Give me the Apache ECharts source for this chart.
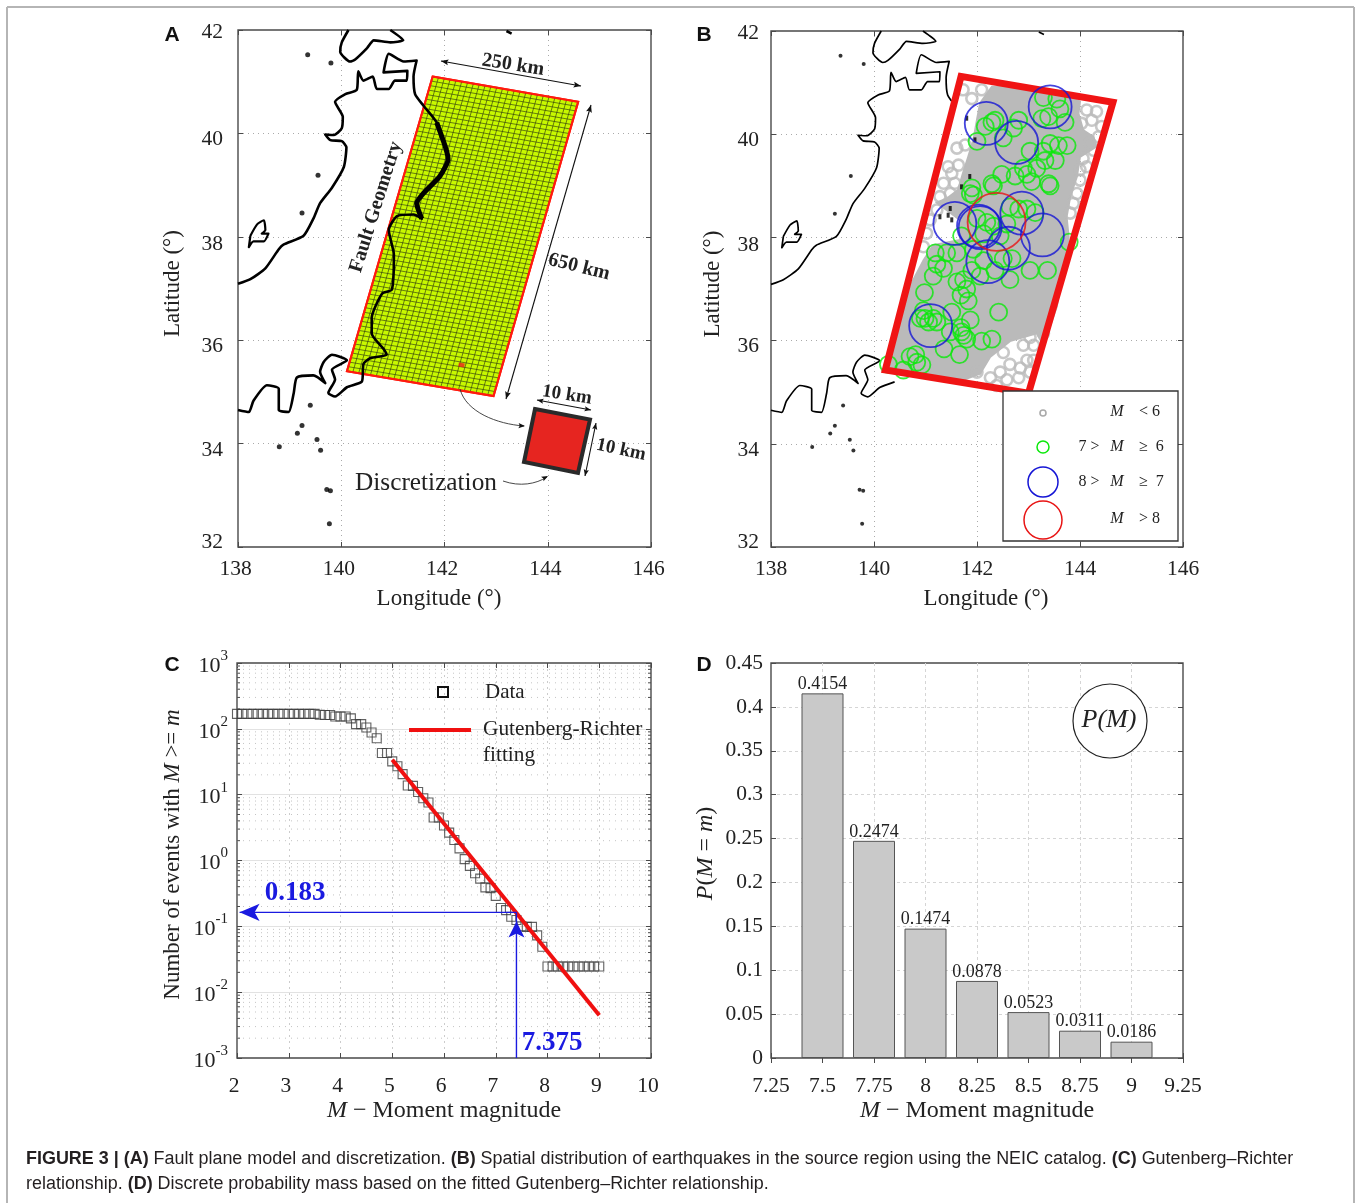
<!DOCTYPE html>
<html><head><meta charset="utf-8">
<style>html,body{margin:0;padding:0;background:#fff}#c{width:1355px;height:1203px}</style>
<script src="https://cdn.jsdelivr.net/npm/echarts@6/dist/echarts.min.js"></script>
</head><body><div id="c"></div>
<script>
// ---------- map data (lon, lat) ----------
const honshuCoast=[[138,37.09],[138.24,37.18],[138.53,37.39],[138.79,37.76],[138.88,37.85],[139.27,38.02],[139.46,38.35],[139.59,38.65],[139.82,38.95],[140.05,39.35],[140.10,39.73],[140.01,39.85],[139.79,39.87],[139.69,39.98],[139.86,39.97],[140.01,40.10],[140.03,40.32],[139.88,40.61],[140.08,40.76],[140.30,40.84],[140.33,41.2],[140.43,41.02],[140.61,41.10],[140.69,40.86],[140.92,40.86],[141.04,41.02],[141.27,41.02],[141.28,41.21],[140.82,41.18],[140.92,41.54],[141.21,41.39],[141.46,41.41],[141.40,41.10],[141.43,40.76],[141.59,40.54],[141.85,40.21],[142.01,39.76],[142.07,39.5],[141.91,39.17],[141.59,38.84],[141.46,38.65],[141.56,38.35],[141.40,38.43],[141.08,38.40],[140.92,38.13],[141.02,37.65],[140.98,36.98],[140.79,36.90],[140.59,36.43],[140.59,36.13],[140.82,35.83],[140.88,35.72],[140.56,35.65],[140.43,35.54],[140.40,35.20],[140.11,35.09],[139.88,34.91],[139.75,34.98],[139.88,35.24],[139.82,35.43],[140.11,35.61],[139.82,35.72],[139.66,35.58],[139.59,35.39],[139.69,35.17],[139.46,35.32],[139.14,35.28],[139.08,34.98],[138.98,34.61],[138.79,34.65],[138.79,35.06],[138.56,35.13],[138.30,34.83],[138.21,34.61],[138,34.65]];
const sanrikuCoast=[[141.85,40.21],[142.01,39.76],[142.07,39.5],[141.91,39.17],[141.59,38.84],[141.46,38.65],[141.56,38.35]];
const hokkaidoCoast=[[140.14,42],[140.01,41.76],[139.98,41.58],[140.17,41.39],[140.27,41.43],[140.5,41.65],[140.63,41.8],[140.95,41.76],[141.2,41.8],[140.95,42]];
const northTip=[[143.2,41.98],[143.3,41.93]];
const sadoCoast=[[138.24,38.02],[138.37,38.24],[138.5,38.32],[138.53,38.13],[138.46,38.06],[138.59,38.06],[138.5,37.91],[138.3,37.91],[138.21,37.8],[138.24,38.02]];
const islands=[[139.35,41.52],[139.8,41.36],[139.55,39.19],[139.24,38.46],[139.4,34.74],[139.24,34.35],[139.15,34.2],[139.53,34.08],[139.6,33.87],[139.72,33.11],[139.79,33.09],[139.77,32.45],[138.8,33.94]];
const faultCornersA=[[141.77,41.10],[144.59,40.61],[142.95,34.92],[140.11,35.40]];
const faultCornersB=[[141.69,41.12],[144.64,40.62],[143.0,34.98],[140.22,35.43]];
const meshAcross=25, meshAlong=65;
const highlightedCell=[142.33,35.52];
// ---------- catalogue, panel B ----------
const greyDenseArea=[[142.29,40.92],[143.16,40.90],[143.75,40.75],[144.0,40.63],[143.97,40.40],[144.06,40.08],[144.26,39.95],[144.32,39.76],[144.0,39.56],[143.94,39.18],[143.81,38.79],[143.74,38.40],[143.78,38.0],[143.55,36.66],[143.29,35.91],[143.16,36.14],[142.64,35.99],[142.26,35.69],[142.06,35.36],[141.74,35.24],[140.96,35.28],[140.31,35.43],[140.57,36.81],[140.96,37.55],[141.15,37.85],[141.67,37.95],[141.67,38.34],[141.22,38.67],[141.42,38.76],[141.63,38.92],[141.73,39.25],[141.83,39.56],[141.93,39.89],[142.0,40.28],[142.06,40.60]];
const eventsBelow6=[[141.90,40.69],[142.09,40.86],[141.73,40.86],[141.61,39.73],[141.77,39.79],[141.44,39.37],[141.64,39.40],[141.51,39.24],[141.35,39.05],[141.57,39.05],[141.28,38.79],[141.48,38.85],[141.22,38.53],[141.09,38.34],[141.02,38.08],[140.96,37.82],[144.13,40.47],[144.32,40.44],[144.23,40.27],[144.42,40.15],[144.36,39.95],[144.19,39.83],[144.26,39.69],[144.06,39.53],[144.13,39.37],[144.0,39.31],[144.0,39.11],[143.94,38.85],[143.87,38.66],[143.81,38.47],[144.03,40.21],[142.51,35.77],[142.90,35.91],[143.10,35.91],[142.64,35.54],[142.84,35.47],[142.45,35.39],[142.26,35.28],[142.97,35.62],[143.10,35.62],[142.0,35.39],[142.81,35.28],[142.58,35.24],[142.38,35.13],[143.03,35.39],[143.29,36.14],[143.03,36.06]];
const events6to7=[[140.28,35.54],[140.57,35.43],[140.70,35.69],[140.81,35.73],[140.93,35.53],[140.83,35.58],[141.36,35.84],[141.66,35.73],[141.48,36.17],[141.70,36.17],[141.74,36.10],[141.80,36.03],[141.69,36.25],[142.09,35.99],[142.29,36.03],[141.87,36.40],[141.51,36.55],[142.42,36.55],[140.9,36.43],[140.99,36.43],[141.06,36.36],[141.15,36.43],[141.22,36.36],[140.96,36.58],[140.98,36.93],[141.83,36.77],[141.80,37.0],[141.69,36.88],[141.61,37.14],[141.74,37.18],[141.15,37.25],[141.35,37.40],[141.22,37.48],[141.19,37.70],[141.41,37.70],[141.61,37.70],[141.70,38.03],[141.93,37.77],[142.06,37.25],[141.90,37.36],[142.35,37.36],[142.64,37.18],[143.03,37.36],[143.37,37.36],[142.51,37.59],[142.68,37.59],[142.13,37.55],[143.79,37.91],[142.0,38.37],[142.19,38.29],[142.32,38.22],[142.13,38.07],[142.45,38.03],[142.64,38.59],[142.81,38.55],[142.97,38.55],[143.13,38.48],[142.58,38.26],[141.87,38.85],[141.93,38.82],[141.90,38.96],[142.32,39.0],[142.29,39.04],[142.48,39.22],[142.74,39.19],[142.97,39.22],[143.06,39.08],[142.90,39.34],[143.16,39.34],[143.42,39.0],[143.39,39.04],[143.32,39.49],[143.52,39.49],[143.03,39.67],[143.42,39.82],[143.58,39.78],[143.75,39.78],[143.29,39.67],[142.0,39.86],[142.16,40.15],[142.29,40.23],[142.35,40.27],[142.51,39.93],[142.71,40.12],[142.81,40.27],[143.26,40.30],[143.39,40.34],[143.29,40.71],[143.55,40.68],[143.61,40.49],[143.71,40.23]];
const events7to8=[[142.18,40.21],[142.77,39.84],[143.42,40.53],[141.57,38.27],[142.03,38.22],[142.06,38.19],[142.87,38.47],[143.27,38.05],[142.61,37.79],[142.21,37.53],[141.10,36.29]];
const eventsAbove8=[[142.38,38.30]];
const sendaiSpecks=[[141.86,39.18],[141.70,38.98],[141.48,38.56],[141.51,38.34],[141.28,38.40],[141.44,38.43],[141.8,40.31],[141.96,39.89]];
// ---------- panel C ----------
const magnitudes=[2,2.1,2.2,2.3,2.4,2.5,2.6,2.7,2.8,2.9,3,3.1,3.2,3.3,3.4,3.5,3.6,3.7,3.8,3.9,4,4.1,4.2,4.3,4.4,4.5,4.6,4.7,4.8,4.9,5,5.1,5.2,5.3,5.4,5.5,5.6,5.7,5.8,5.9,6,6.1,6.2,6.3,6.4,6.5,6.6,6.7,6.8,6.9,7,7.1,7.2,7.3,7.4,7.5,7.6,7.7,7.8,7.9,8,8.1,8.2,8.3,8.4,8.5,8.6,8.7,8.8,8.9,9];
const eventRates=[169,169,169,169,169,169,169,169,169,169,169,169,169,169,169,169,164,162,162,154,154,154,144,118,118,105,88,72,43,43,32,27,20.5,13.8,13.6,11,8.8,7.6,4.5,4.5,3.4,2.65,2.05,1.53,1.05,0.83,0.64,0.53,0.39,0.38,0.29,0.19,0.176,0.14,0.125,0.1,0.098,0.098,0.073,0.049,0.0245,0.0245,0.0245,0.0245,0.0245,0.0245,0.0245,0.0245,0.0245,0.0245,0.0245];
const grFit=[[5,33.9],[9,0.00447]];
const designRate=0.163, designMagnitude=7.4;
const minorDecades=[0.001,0.01,0.1,1,10,100], minorMultipliers=[2,3,4,5,6,7,8,9];
// ---------- panel D ----------
const barMagnitudes=[7.5,7.75,8,8.25,8.5,8.75,9];
const barProbabilities=[0.4154,0.2474,0.1474,0.0878,0.0523,0.0311,0.0186];

const serif='"Liberation Serif","Times New Roman",serif', sans='"Liberation Sans",Arial,sans-serif';
const ink='#222', frame='#4a4a4a';
const tickLabel={fontFamily:serif,fontSize:21.5,color:ink};
const nm=(size,pad)=>({fontFamily:serif,fontSize:size,color:ink,padding:pad,rich:{i:{fontFamily:serif,fontSize:size,fontStyle:'italic',color:ink},n:{fontFamily:serif,fontSize:size,color:ink}}});
const dots={show:true,lineStyle:{color:'#aaa',type:[1,4],width:1}};
const tick={inside:true,length:5,lineStyle:{color:frame,width:1}};

const grids=[{left:238,top:30,width:413,height:517},{left:771,top:31,width:412,height:516},{left:237,top:663,width:414,height:395},{left:771,top:663,width:412,height:395}]
 .map(g=>Object.assign({show:true,borderColor:frame,borderWidth:1.4,backgroundColor:'#fff'},g));

function xPair(i,o,extra){return [
 Object.assign({gridIndex:i,type:'value',position:'bottom',axisLine:{show:false},axisTick:tick,splitLine:dots,axisLabel:Object.assign({margin:10},tickLabel),nameLocation:'middle'},o,extra),
 Object.assign({gridIndex:i,type:'value',position:'top',axisLine:{show:false},axisTick:tick,splitLine:{show:false},axisLabel:{show:false}},o)];}
function yPair(i,o,extra){return [
 Object.assign({gridIndex:i,type:'value',position:'left',axisLine:{show:false},axisTick:tick,splitLine:dots,axisLabel:Object.assign({margin:12},tickLabel),nameLocation:'middle'},o,extra),
 Object.assign({gridIndex:i,type:'value',position:'right',axisLine:{show:false},axisTick:tick,splitLine:{show:false},axisLabel:{show:false}},o)];}

const lon={min:138,max:146,interval:2}, lat={min:32,max:42,interval:2};
// label nudges of the latitude ticks as printed in the figure
const latNudge={42:[4,0,0,0],40:[12,0,0,0],38:[16,0,0,0],36:[12,0,0,0],34:[14,0,0,0],32:[0,0,10,0]};
const latRich={};Object.keys(latNudge).forEach(k=>latRich['o'+k]={fontFamily:serif,fontSize:21.5,color:ink,padding:latNudge[k]});
const latLabel=m=>({margin:m,formatter:v=>'{o'+v+'|'+v+'}',rich:latRich});
const xLabelShift=Object.assign({margin:17,padding:[0,6,0,0]},tickLabel);
const xAxis=[
 ...xPair(0,lon,{name:'Longitude (°)',nameGap:40,nameTextStyle:nm(23,[0,11,0,0]),axisLabel:Object.assign({margin:11,padding:[0,5,0,0]},tickLabel)}),
 ...xPair(1,lon,{name:'Longitude (°)',nameGap:40,nameTextStyle:nm(23,[0,0,0,18]),axisLabel:Object.assign({margin:11},tickLabel)}),
 ...xPair(2,{min:2,max:10,interval:1},{name:'{i|M} − Moment magnitude',nameGap:41,nameTextStyle:nm(24,[0,0,0,0]),axisLabel:xLabelShift,splitLine:{show:true,lineStyle:{color:'#ccc',type:[2,4]}}}),
 ...xPair(3,{min:7.25,max:9.25,interval:0.25},{name:'{i|M} − Moment magnitude',nameGap:41,nameTextStyle:nm(24,[0,0,0,0]),axisLabel:Object.assign({margin:17},tickLabel),splitLine:{show:true,lineStyle:{color:'#d5d5d5',type:[3,3]}}})];
const logMinor={type:'log',logBase:10,min:0.001,max:1000};
const yAxis=[
 ...yPair(0,lat,{name:'Latitude (°)',nameGap:54,nameTextStyle:nm(23,[0,0,0,10]),axisLabel:latLabel(15)}),
 ...yPair(1,lat,{name:'Latitude (°)',nameGap:47,nameTextStyle:nm(23,[0,0,0,10]),axisLabel:latLabel(12)}),
 ...yPair(2,logMinor,{name:'Number of events with {i|M} >= {i|m}',nameGap:53,nameTextStyle:nm(23,[0,0,0,12]),
   axisLabel:{margin:9,formatter:v=>'{b|10}{s|'+Math.round(Math.log10(v))+'}',rich:{b:{fontFamily:serif,fontSize:22,color:ink,padding:[6,0,0,0]},s:{fontFamily:serif,fontSize:15,color:ink,padding:[0,0,14,0]}}},
   splitLine:{show:true,lineStyle:{color:'#e2e2e2',width:1.2,type:'solid'}}}),
 ...yPair(3,{min:0,max:0.45,interval:0.05},{name:'{i|P}({i|M} = {i|m})',nameGap:53,nameTextStyle:nm(24,[0,0,0,14]),axisLabel:Object.assign({margin:8,padding:[4,0,0,0]},tickLabel),splitLine:{show:true,lineStyle:{color:'#d5d5d5',type:[3,3]}}})];
// grid lines must not paint over the box
xAxis.concat(yAxis).forEach(a=>{if(a.splitLine.show)a.splitLine=Object.assign({},a.splitLine,{showMinLine:false,showMaxLine:false});});
const ax=i=>({xAxisIndex:i*2,yAxisIndex:i*2});

function coast(name,panel,data,width){return Object.assign({type:'line',name,data,symbol:'none',silent:true,smooth:0.2,z:panel===0?5:2,lineStyle:{color:'#000',width:width,join:'round'}},ax(panel));}
function outline(panel,corners,color,width,fill,z){return Object.assign({type:'custom',z,silent:true,data:[corners[0]],encode:{x:0,y:1},renderItem:(p,api)=>({type:'polygon',shape:{points:corners.map(c=>api.coord(c))},style:{fill,stroke:color,lineWidth:width,lineJoin:'miter'}})},ax(panel));}
function mesh(panel,c){return Object.assign({type:'custom',z:3,silent:true,data:[c[0]],encode:{x:0,y:1},renderItem:(p,api)=>{
  const lerp=(a,b,t)=>[a[0]+(b[0]-a[0])*t,a[1]+(b[1]-a[1])*t],ch=[];
  const ln=(a,b)=>{const A=api.coord(a),B=api.coord(b);ch.push({type:'line',shape:{x1:A[0],y1:A[1],x2:B[0],y2:B[1]},style:{stroke:'#2e3a10',lineWidth:0.65}});};
  for(let i=1;i<meshAcross;i++)ln(lerp(c[0],c[1],i/meshAcross),lerp(c[3],c[2],i/meshAcross));
  for(let j=1;j<meshAlong;j++)ln(lerp(c[0],c[3],j/meshAlong),lerp(c[1],c[2],j/meshAlong));
  return {type:'group',children:ch};}},ax(panel));}
function circles(name,data,size,color,width,z){return Object.assign({type:'scatter',name,data,symbol:'circle',symbolSize:size,silent:true,z,itemStyle:{color:'rgba(0,0,0,0)',borderColor:color,borderWidth:width}},ax(1));}

const minorY=[];minorDecades.forEach(d=>minorMultipliers.forEach(m=>minorY.push(+(d*m).toPrecision(2))));
const minorGrid=Object.assign({type:'custom',z:1,silent:true,data:minorY.map(v=>[2,v]),encode:{x:0,y:1},renderItem:(p,api)=>{
  const a=api.coord([2,api.value(1)]),b=api.coord([10,api.value(1)]);
  const s={stroke:frame,lineWidth:1};
  return {type:'group',children:[
   {type:'line',shape:{x1:a[0],y1:a[1],x2:b[0],y2:b[1]},style:{stroke:'#c4c4c4',lineWidth:1,lineDash:[1,5]}},
   {type:'line',shape:{x1:a[0],y1:a[1],x2:a[0]+3,y2:a[1]},style:s},
   {type:'line',shape:{x1:b[0]-3,y1:b[1],x2:b[0],y2:b[1]},style:s}]};}},ax(2));

const iNorth=honshuCoast.findIndex(p=>p[0]===141.59&&p[1]===40.54), iSouth=honshuCoast.findIndex(p=>p[0]===140.40&&p[1]===35.20);
const series=[
 // panel A
 outline(0,faultCornersA,'#ff1a10',2,'#c8f800',2),
 mesh(0,faultCornersA),
 outline(0,faultCornersA,'#ff1a10',2,'rgba(0,0,0,0)',4),
 Object.assign({type:'scatter',name:'cell',data:[highlightedCell],symbol:'rect',symbolSize:[6,4],symbolRotate:-10,silent:true,z:4,itemStyle:{color:'#e8201c'}},ax(0)),
 coast('Honshu',0,honshuCoast,2.6),coast('Sanriku',0,sanrikuCoast,5),coast('Hokkaido',0,hokkaidoCoast,2.6),coast('N',0,northTip,2.6),coast('Sado',0,sadoCoast,2.2),
 Object.assign({type:'scatter',name:'islands',data:islands,symbol:'circle',symbolSize:5,silent:true,z:5,itemStyle:{color:'#000'}},ax(0)),
 // panel B
 coast('HonshuN',1,honshuCoast.slice(0,iNorth+1),1.7),coast('HonshuS',1,honshuCoast.slice(iSouth),1.7),coast('Hokkaido',1,hokkaidoCoast,1.7),coast('N',1,northTip,1.7),coast('Sado',1,sadoCoast,1.7),
 Object.assign({type:'scatter',name:'islands',data:islands,symbol:'circle',symbolSize:4,silent:true,z:2,itemStyle:{color:'#000'}},ax(1)),
 outline(1,greyDenseArea,'#bababa',2,'#bababa',3),
 circles('M<6',eventsBelow6,11,'#bababa',2.6,4),
 Object.assign({type:'scatter',name:'specks',data:sendaiSpecks,symbol:'rect',symbolSize:[3,5],silent:true,z:4,itemStyle:{color:'#000'}},ax(1)),
 circles('6<=M<7',events6to7,17,'#0be80b',1.8,5),
 outline(1,faultCornersB,'#f01414',7,'rgba(0,0,0,0)',6),
 circles('7<=M<8',events7to8,43,'#1515d5',1.8,7),
 circles('M>8',eventsAbove8,58,'#e81414',1.8,8),
 // panel C
 minorGrid,
 Object.assign({type:'scatter',name:'Data',data:magnitudes.map((m,i)=>[m,eventRates[i]]),symbol:'rect',symbolSize:9,silent:true,z:3,itemStyle:{color:'rgba(0,0,0,0)',borderColor:'#3a3a3a',borderWidth:1.1}},ax(2)),
 Object.assign({type:'line',name:'Gutenberg-Richter fitting',data:grFit,symbol:'none',silent:true,z:4,lineStyle:{color:'#f01010',width:4}},ax(2)),
 Object.assign({type:'line',name:'rate',silent:true,z:5,lineStyle:{color:'#1a1ae0',width:1.4},showSymbol:true,itemStyle:{color:'#1a1ae0'},
   data:[{value:[designMagnitude,designRate],symbol:'none'},{value:[2.05,designRate],symbol:'arrow',symbolSize:[13,20],symbolRotate:90}]},ax(2)),
 Object.assign({type:'line',name:'mag',silent:true,z:5,lineStyle:{color:'#1a1ae0',width:1.4},showSymbol:true,itemStyle:{color:'#1a1ae0'},
   data:[{value:[designMagnitude,0.001],symbol:'none'},{value:[designMagnitude,0.118],symbol:'arrow',symbolSize:[12,16]},{value:[designMagnitude,designRate],symbol:'none'}]},ax(2)),
 // panel D
 Object.assign({type:'bar',name:'P(M=m)',data:barMagnitudes.map((m,i)=>[m,barProbabilities[i]]),barWidth:42,silent:true,z:3,
   itemStyle:{color:'#c9c9c9',borderColor:'#555',borderWidth:1},
   label:{show:true,position:'top',distance:0,fontFamily:serif,fontSize:18,color:ink,formatter:p=>p.value[1].toFixed(4)}},ax(3))
];

// ---------- annotations ----------
const T=(x,y,text,o={})=>({type:'text',z:100,x,y,rotation:(o.rot||0)*Math.PI/180,style:Object.assign({text,fill:o.fill||ink,font:(o.weight||'normal')+' '+(o.size||20)+'px '+(o.fam||serif),textAlign:o.align||'center',textVerticalAlign:'middle'},o.style||{})});
const L=(x1,y1,x2,y2,stroke='#111',w=1.1)=>({type:'line',z:100,shape:{x1,y1,x2,y2},style:{stroke,lineWidth:w}});
function head(x,y,fromX,fromY,s=8){const a=Math.atan2(y-fromY,x-fromX),b=0.38;
 return {type:'polygon',z:100,shape:{points:[[x,y],[x-s*Math.cos(a-b),y-s*Math.sin(a-b)],[x-s*Math.cos(a)*0.75,y-s*Math.sin(a)*0.75],[x-s*Math.cos(a+b),y-s*Math.sin(a+b)]]},style:{fill:'#111'}};}
const dbl=(x1,y1,x2,y2,s)=>[L(x1,y1,x2,y2),head(x1,y1,x2,y2,s),head(x2,y2,x1,y1,s)];
const curve=(x1,y1,cx1,cy1,cx2,cy2,x2,y2)=>({type:'bezierCurve',z:100,shape:{x1,y1,cpx1:cx1,cpy1:cy1,cpx2:cx2,cpy2:cy2,x2,y2},style:{stroke:'#333',lineWidth:0.9,fill:'none'}});
const graphic=[
 L(7,7,1354,7,'#b5b5b5',2),L(7,7,7,1203,'#b5b5b5',2),L(1354,7,1354,1203,'#b5b5b5',2),
 T(172,35,'A',{fam:sans,weight:'bold',size:21,fill:'#111'}),T(704,35,'B',{fam:sans,weight:'bold',size:21,fill:'#111'}),
 T(172,665,'C',{fam:sans,weight:'bold',size:21,fill:'#111'}),T(704,665,'D',{fam:sans,weight:'bold',size:21,fill:'#111'}),
 // A
 T(513,65,'250 km',{weight:'bold',size:20,rot:-9}),...dbl(441,61,581,86),
 T(579,267,'650 km',{weight:'bold',size:20,rot:-14}),...dbl(591,105,506,399),
 T(376,207,'Fault Geometry',{weight:'bold',size:20,rot:72.5}),
 T(426,483,'Discretization',{size:25.3}),
 {type:'polygon',z:100,shape:{points:[[535,409],[590,419.5],[578,473],[524,462]]},style:{fill:'#e62520',stroke:'#2a2a2a',lineWidth:4,lineJoin:'miter'}},
 T(567,395,'10 km',{weight:'bold',size:19,rot:-9}),...dbl(537,400,591,410,7),
 T(621,450,'10 km',{weight:'bold',size:19,rot:-12}),...dbl(596,423,585,476,7),
 curve(460,389,466,412,497,424,524,426),head(525,426,510,425,7),
 curve(503,481,520,487,536,484,547,477),head(548,476,535,483,7),
 // B legend
 {type:'rect',z:100,shape:{x:1003,y:391,width:175,height:150},style:{fill:'#fff',stroke:'#333',lineWidth:1.3}},
 {type:'circle',z:101,shape:{cx:1043,cy:413,r:3},style:{fill:'none',stroke:'#aaa',lineWidth:1.6}},
 {type:'circle',z:101,shape:{cx:1043,cy:447,r:6},style:{fill:'none',stroke:'#0be80b',lineWidth:1.5}},
 {type:'circle',z:101,shape:{cx:1043,cy:482,r:15},style:{fill:'none',stroke:'#1515d5',lineWidth:1.5}},
 {type:'circle',z:101,shape:{cx:1043,cy:520,r:19},style:{fill:'none',stroke:'#e81414',lineWidth:1.5}},
 ...[[412,'','< 6'],[447,'7 >','≥  6'],[482,'8 >','≥  7'],[519,'','> 8']].flatMap(r=>[
  T(1089,r[0],r[1],{size:16}),
  T(1117,r[0],'M',{size:16,style:{font:'italic 16px '+serif}}),
  T(1139,r[0],r[2],{size:16,align:'left'})]),
 // C
 {type:'rect',z:100,shape:{x:438,y:687,width:10,height:10},style:{fill:'none',stroke:'#111',lineWidth:2}},
 T(485,692,'Data',{size:21,align:'left'}),L(409,730,471,730,'#f01010',4),
 T(483,729,'Gutenberg-Richter',{size:21.3,align:'left'}),T(483,755,'fitting',{size:21.3,align:'left'}),
 T(295,893,'0.183',{weight:'bold',size:27,fill:'#1a1ae0'}),T(552,1043,'7.375',{weight:'bold',size:27,fill:'#1a1ae0'}),
 // D
 {type:'circle',z:100,shape:{cx:1110,cy:721,r:37},style:{fill:'#fff',stroke:'#222',lineWidth:1.2}},
 T(1109,720,'P(M)',{size:26,style:{font:'italic 26px '+serif}}),
 // caption
 {type:'text',z:100,x:26,y:1159,style:{text:'{b|FIGURE 3 | (A)} Fault plane model and discretization. {b|(B)} Spatial distribution of earthquakes in the source region using the NEIC catalog. {b|(C)} Gutenberg–Richter',
   font:'17.95px '+sans,fill:'#231f20',textVerticalAlign:'middle',rich:{b:{font:'bold 17.95px '+sans,fill:'#231f20'}}}},
 {type:'text',z:100,x:26,y:1184,style:{text:'relationship. {b|(D)} Discrete probability mass based on the fitted Gutenberg–Richter relationship.',
   font:'17.95px '+sans,fill:'#231f20',textVerticalAlign:'middle',rich:{b:{font:'bold 17.95px '+sans,fill:'#231f20'}}}}
];

const chart=echarts.init(document.getElementById('c'),null,{renderer:'canvas'});
chart.setOption({backgroundColor:'#fff',animation:false,grid:grids,xAxis,yAxis,series,graphic:{elements:graphic}});
</script></body></html>
